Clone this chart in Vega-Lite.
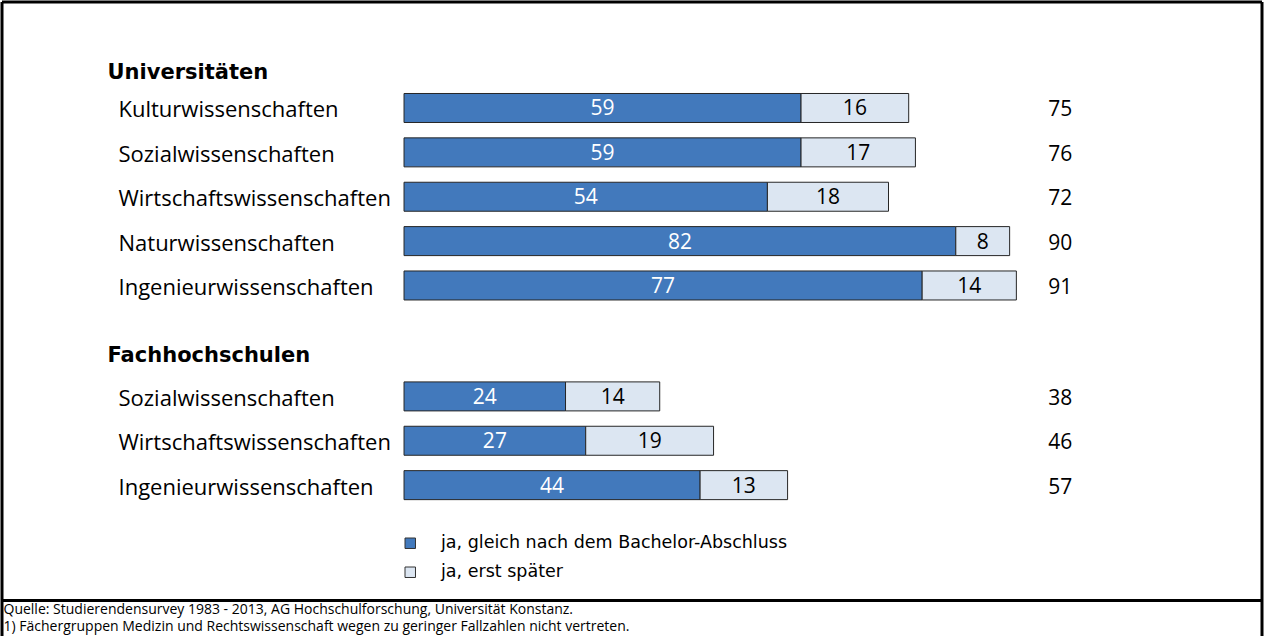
{
  "$schema": "https://vega.github.io/schema/vega-lite/v6.json",
  "autosize": "none",
  "width": 1260,
  "height": 634.5,
  "padding": {"left": 1.5, "top": 1.5, "right": 8.5, "bottom": 0},
  "background": "white",
  "config": {"view": {"stroke": null}, "font": "Open Sans"},
  "data": {
    "values": [
      {"row": "U|Kulturwissenschaften|75", "typ": "ja, gleich nach dem Bachelor-Abschluss", "ord": 1, "value": 59},
      {"row": "U|Kulturwissenschaften|75", "typ": "ja, erst später", "ord": 2, "value": 16},
      {"row": "U|Sozialwissenschaften|76", "typ": "ja, gleich nach dem Bachelor-Abschluss", "ord": 1, "value": 59},
      {"row": "U|Sozialwissenschaften|76", "typ": "ja, erst später", "ord": 2, "value": 17},
      {"row": "U|Wirtschaftswissenschaften|72", "typ": "ja, gleich nach dem Bachelor-Abschluss", "ord": 1, "value": 54},
      {"row": "U|Wirtschaftswissenschaften|72", "typ": "ja, erst später", "ord": 2, "value": 18},
      {"row": "U|Naturwissenschaften|90", "typ": "ja, gleich nach dem Bachelor-Abschluss", "ord": 1, "value": 82},
      {"row": "U|Naturwissenschaften|90", "typ": "ja, erst später", "ord": 2, "value": 8},
      {"row": "U|Ingenieurwissenschaften|91", "typ": "ja, gleich nach dem Bachelor-Abschluss", "ord": 1, "value": 77},
      {"row": "U|Ingenieurwissenschaften|91", "typ": "ja, erst später", "ord": 2, "value": 14},
      {"row": "F|Sozialwissenschaften|38", "typ": "ja, gleich nach dem Bachelor-Abschluss", "ord": 1, "value": 24},
      {"row": "F|Sozialwissenschaften|38", "typ": "ja, erst später", "ord": 2, "value": 14},
      {"row": "F|Wirtschaftswissenschaften|46", "typ": "ja, gleich nach dem Bachelor-Abschluss", "ord": 1, "value": 27},
      {"row": "F|Wirtschaftswissenschaften|46", "typ": "ja, erst später", "ord": 2, "value": 19},
      {"row": "F|Ingenieurwissenschaften|57", "typ": "ja, gleich nach dem Bachelor-Abschluss", "ord": 1, "value": 44},
      {"row": "F|Ingenieurwissenschaften|57", "typ": "ja, erst später", "ord": 2, "value": 13}
    ]
  },
  "resolve": {"axis": {"x": "independent", "y": "independent"}},
  "layer": [
    {
      "mark": {"type": "bar", "height": 29, "stroke": "#262626", "strokeWidth": 1},
      "encoding": {
        "y": {
          "field": "row", "type": "ordinal",
          "scale": {"type": "point", "padding": 0.8007, "domain": ["_0","_1","Universitäten","_3","U|Kulturwissenschaften|75","_5","U|Sozialwissenschaften|76","_7","U|Wirtschaftswissenschaften|72","_9","U|Naturwissenschaften|90","_11","U|Ingenieurwissenschaften|91","_13","_14","Fachhochschulen","_16","F|Sozialwissenschaften|38","_18","F|Wirtschaftswissenschaften|46","_20","F|Ingenieurwissenschaften|57","_22","_23","_24","_25","_26","_27"]},
          "axis": {
            "orient": "left", "title": null, "ticks": false, "grid": false,
            "domain": true, "domainColor": "black", "domainWidth": 3,
            "labelExpr": "indexof(datum.value,'|') >= 0 ? split(datum.value,'|')[1] : (indexof(datum.value,'_') == 0 ? '' : datum.value)",
            "labelAlign": "left", "labelBaseline": "middle", "labelColor": "black", "labelLimit": 600, "labelOverlap": false, "labelBound": false,
            "labelPadding": {"condition": {"test": "indexof(datum.value,'|') < 0", "value": -105.5}, "value": -116.5},
            "labelOffset": {"condition": [{"test": "datum.value == 'Universitäten'", "value": 9}, {"test": "datum.value == 'Fachhochschulen'", "value": 3.5}], "value": 2},
            "labelFont": {"condition": {"test": "indexof(datum.value,'|') < 0", "value": "DejaVu Sans"}, "value": "Open Sans"},
            "labelFontWeight": {"condition": {"test": "indexof(datum.value,'|') < 0", "value": "bold"}, "value": "normal"},
            "labelFontSize": {"condition": {"test": "indexof(datum.value,'|') < 0", "value": 21}, "value": 22}
          }
        },
        "x": {
          "field": "value", "type": "quantitative", "stack": "zero",
          "scale": {"domain": [-59.82, 127.43], "nice": false, "zero": false},
          "axis": {"orient": "top", "labels": false, "ticks": false, "grid": false, "title": null, "domainColor": "black", "domainWidth": 3}
        },
        "color": {
          "field": "typ", "type": "nominal",
          "scale": {"domain": ["ja, gleich nach dem Bachelor-Abschluss", "ja, erst später"], "range": ["#4279BC", "#DCE6F2"]},
          "legend": {
            "orient": "none", "legendX": 400, "legendY": 533, "title": null, "padding": 0,
            "symbolType": "square", "symbolSize": 110, "symbolStrokeColor": "#333333", "symbolStrokeWidth": 1,
            "labelFont": "DejaVu Sans", "labelFontSize": 17.5, "labelColor": "black", "labelOffset": 22, "rowPadding": 10, "labelLimit": 600
          }
        },
        "order": {"field": "ord", "type": "quantitative"}
      }
    },
    {
      "mark": {"type": "text", "font": "Open Sans", "fontSize": 21, "baseline": "middle", "align": "center", "dy": 1.5},
      "encoding": {
        "y": {
          "field": "row", "type": "ordinal",
          "scale": {"type": "point", "padding": 0.8007, "domain": ["_0","_1","Universitäten","_3","U|Kulturwissenschaften|75","_5","U|Sozialwissenschaften|76","_7","U|Wirtschaftswissenschaften|72","_9","U|Naturwissenschaften|90","_11","U|Ingenieurwissenschaften|91","_13","_14","Fachhochschulen","_16","F|Sozialwissenschaften|38","_18","F|Wirtschaftswissenschaften|46","_20","F|Ingenieurwissenschaften|57","_22","_23","_24","_25","_26","_27"]},
          "axis": {
            "orient": "right", "title": null, "ticks": false, "grid": false,
            "domain": true, "domainColor": "black", "domainWidth": 3,
            "labelExpr": "indexof(datum.value,'|') >= 0 ? split(datum.value,'|')[2] : ''",
            "labelAlign": "center", "labelBaseline": "middle", "labelColor": "black", "labelOverlap": false, "labelBound": false,
            "labelPadding": -201.7, "labelOffset": 2, "labelFont": "Open Sans", "labelFontSize": 21
          }
        },
        "x": {
          "field": "value", "type": "quantitative", "stack": "zero", "bandPosition": 0.5,
          "scale": {"domain": [-59.82, 127.43], "nice": false, "zero": false},
          "axis": {
            "orient": "bottom", "offset": -36, "labels": false, "ticks": false, "grid": false,
            "domainColor": "black", "domainWidth": 3,
            "title": ["Quelle: Studierendensurvey 1983 - 2013, AG Hochschulforschung, Universität Konstanz.", "1) Fächergruppen Medizin und Rechtswissenschaft wegen zu geringer Fallzahlen nicht vertreten."],
            "titleX": 1.5, "titleY": 2, "titleAlign": "left", "titleBaseline": "top", "titleAngle": 0,
            "titleFont": "Open Sans", "titleFontSize": 14, "titleFontWeight": "normal", "titleLineHeight": 17, "titleColor": "black"
          }
        },
        "detail": {"field": "typ", "type": "nominal"},
        "order": {"field": "ord", "type": "quantitative"},
        "text": {"field": "value", "type": "quantitative"},
        "color": {"condition": {"test": "datum.ord == 1", "value": "white"}, "value": "black"}
      }
    }
  ]
}
